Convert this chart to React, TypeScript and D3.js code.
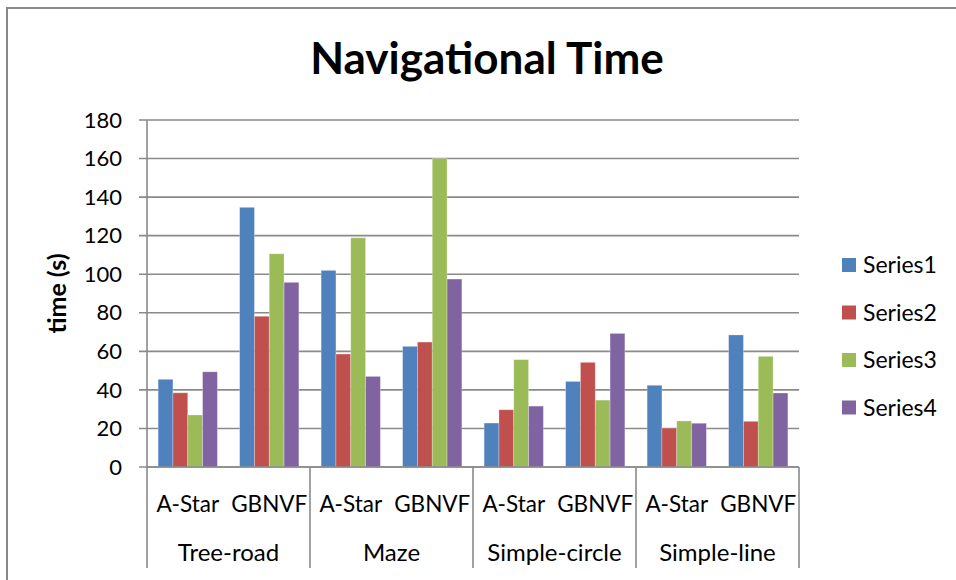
import * as d3 from "d3";

const groups = ["Tree-road", "Maze", "Simple-circle", "Simple-line"];
const methods = ["A-Star", "GBNVF"];
const seriesNames = ["Series1", "Series2", "Series3", "Series4"];
// one value per group/method pair, in order
const series1 = [45.5, 134.7, 102, 62.6, 22.8, 44.4, 42.4, 68.5];
const series2 = [38.5, 78.2, 58.6, 64.8, 29.7, 54.3, 20.2, 23.7];
const series3 = [27, 110.6, 118.9, 160, 55.7, 34.7, 23.9, 57.4];
const series4 = [49.4, 95.8, 47, 97.5, 31.6, 69.3, 22.7, 38.4];
const yTicks = [0, 20, 40, 60, 80, 100, 120, 140, 160, 180];

const COLORS = ["#4F81BD", "#C0504D", "#9BBB59", "#8064A2"];
const FONT = "Lato, 'Open Sans', sans-serif";
const W = 956;
const H = 580;
const margin = { left: 147, right: 157, top: 120, bottom: 113 };

export default function App() {
  const allSeries = [series1, series2, series3, series4];
  const slots = groups.flatMap((g) => methods.map((m) => `${g}|${m}`));

  const x0 = d3.scaleBand().domain(groups).range([margin.left, W - margin.right]);
  const xSlot = d3.scaleBand().domain(slots).range([margin.left, W - margin.right]);
  const x1 = d3.scaleBand().domain(seriesNames).range([0, xSlot.bandwidth()]).paddingOuter(0.75);
  const y = d3.scaleLinear().domain([0, 180]).range([H - margin.bottom, margin.top]);

  const y0 = y(0);
  const bottomLine = 568;
  const grid = "#8a8a8a";

  return (
    <div style={{ position: "fixed", left: 0, top: 0 }}>
      <svg width={W} height={H} style={{ display: "block", background: "#fff" }} fontFamily={FONT}>
        {/* chart border */}
        <rect x={7} y={8} width={W} height={H} fill="none" stroke="#888" strokeWidth={2} />

        <text x={487} y={74} textAnchor="middle" fontSize={44} fontWeight="bold" fill="#000">
          Navigational Time
        </text>

        {/* gridlines + y ticks */}
        {yTicks.map((t) => (
          <g key={t}>
            <line x1={margin.left - 8} x2={W - margin.right} y1={y(t)} y2={y(t)} stroke={grid} strokeWidth={1.6} />
            <text x={122} y={y(t)} dy="0.35em" textAnchor="end" fontSize={22} fill="#000">
              {t}
            </text>
          </g>
        ))}
        <line x1={margin.left} x2={margin.left} y1={margin.top} y2={y0} stroke={grid} strokeWidth={1.6} />

        <text
          transform={`translate(57, ${(margin.top + y0) / 2}) rotate(-90)`}
          textAnchor="middle"
          dy="0.35em"
          fontSize={25}
          fontWeight="bold"
          fill="#000"
        >
          time (s)
        </text>

        {/* bars */}
        {slots.map((s, i) => (
          <g key={s} transform={`translate(${xSlot(s)},0)`}>
            {allSeries.map((vals, k) => (
              <rect
                key={k}
                x={x1(seriesNames[k])}
                y={y(vals[i])}
                width={x1.bandwidth()}
                height={y0 - y(vals[i])}
                fill={COLORS[k]}
                stroke="#fff"
                strokeOpacity={0.35}
                strokeWidth={0.8}
              />
            ))}
          </g>
        ))}

        {/* category axis */}
        <line x1={margin.left} x2={W - margin.right} y1={y0} y2={y0} stroke={grid} strokeWidth={1.6} />
        {[...groups.map((g) => x0(g)!), W - margin.right].map((xv, i) => (
          <line key={i} x1={xv} x2={xv} y1={y0} y2={bottomLine} stroke={grid} strokeWidth={1.6} />
        ))}
        {slots.map((s) => (
          <text
            key={s}
            x={xSlot(s)! + xSlot.bandwidth() / 2}
            y={504}
            dy="0.35em"
            textAnchor="middle"
            fontSize={22.5}
            fill="#000"
          >
            {s.split("|")[1]}
          </text>
        ))}
        {groups.map((g) => (
          <text
            key={g}
            x={x0(g)! + x0.bandwidth() / 2}
            y={553}
            dy="0.35em"
            textAnchor="middle"
            fontSize={24}
            fill="#000"
          >
            {g}
          </text>
        ))}

        {/* legend */}
        {seriesNames.map((n, k) => (
          <g key={n} transform={`translate(842, ${265 + k * 47.5})`}>
            <rect x={0} y={-7} width={14} height={14} fill={COLORS[k]} />
            <text x={21} y={0} dy="0.35em" fontSize={23} fill="#000">
              {n}
            </text>
          </g>
        ))}
      </svg>
    </div>
  );
}
